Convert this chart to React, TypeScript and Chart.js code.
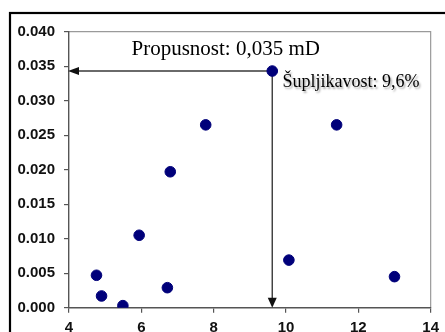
import React, { useEffect, useRef } from "react";
import { Chart, registerables } from "chart.js";

Chart.register(...registerables);

const xValues = [4.76, 4.9, 5.49, 5.94, 6.72, 6.8, 7.78, 9.62, 11.4, 10.08, 13.0];
const yValues = [0.0047, 0.0017, 0.0003, 0.0105, 0.0029, 0.0197, 0.0265, 0.0343, 0.0265, 0.0069, 0.0045];
const highlightIndex = 7;
const xTickLabels = ["4", "6", "8", "10", "12", "14"];
const yTickLabels = ["0.000", "0.005", "0.010", "0.015", "0.020", "0.025", "0.030", "0.035", "0.040"];
const permeabilityLabel = "Propusnost: 0,035 mD";
const porosityLabel = "Šupljikavost: 9,6%";

const overlayPlugin = {
  id: "overlay",
  beforeDraw(chart: any) {
    const ctx = chart.ctx;
    const { chartArea } = chart;
    ctx.save();
    ctx.strokeStyle = "#000";
    ctx.lineWidth = 2.2;
    ctx.strokeRect(10, 13, 500, 400);
    ctx.strokeStyle = "#9a9a9a";
    ctx.lineWidth = 1.2;
    ctx.beginPath();
    ctx.moveTo(chartArea.left, chartArea.top);
    ctx.lineTo(chartArea.right, chartArea.top);
    ctx.lineTo(chartArea.right, chartArea.bottom);
    ctx.stroke();
    ctx.restore();
  },
  beforeDatasetsDraw(chart: any) {
    const ctx = chart.ctx;
    const xs = chart.scales.x;
    const ys = chart.scales.y;
    const px = xs.getPixelForValue(xValues[highlightIndex]);
    const py = ys.getPixelForValue(yValues[highlightIndex]);
    const left = xs.getPixelForValue(xs.min);
    const bottom = ys.getPixelForValue(ys.min);
    ctx.save();
    ctx.strokeStyle = "#3a3a3a";
    ctx.fillStyle = "#111";
    ctx.lineWidth = 1.4;
    ctx.beginPath();
    ctx.moveTo(px, py);
    ctx.lineTo(left + 8, py);
    ctx.moveTo(px, py);
    ctx.lineTo(px, bottom - 8);
    ctx.stroke();
    ctx.beginPath();
    ctx.moveTo(left - 1, py);
    ctx.lineTo(left + 10, py - 4);
    ctx.lineTo(left + 10, py + 4);
    ctx.closePath();
    ctx.fill();
    ctx.beginPath();
    ctx.moveTo(px, bottom);
    ctx.lineTo(px - 4.5, bottom - 10);
    ctx.lineTo(px + 4.5, bottom - 10);
    ctx.closePath();
    ctx.fill();
    ctx.restore();
  },
  afterDraw(chart: any) {
    const ctx = chart.ctx;
    const { chartArea } = chart;
    ctx.save();
    ctx.textBaseline = "alphabetic";
    ctx.textAlign = "left";
    ctx.fillStyle = "#000";
    ctx.font = '21px "Liberation Serif", "Times New Roman", serif';
    ctx.fillText(permeabilityLabel, chartArea.left + 62.5, chartArea.top + 23.3);
    ctx.font = '18px "Liberation Serif", "Times New Roman", serif';
    ctx.shadowColor = "rgba(0,0,0,0.35)";
    ctx.shadowOffsetX = 1.5;
    ctx.shadowOffsetY = 1.5;
    ctx.shadowBlur = 2;
    ctx.fillText(porosityLabel, chartArea.left + 213.5, chartArea.top + 55.6);
    ctx.restore();
  },
};

export default function App() {
  const ref = useRef<HTMLCanvasElement>(null);
  useEffect(() => {
    if (!ref.current) return;
    const tickFont = { family: '"Liberation Sans", Arial, sans-serif', size: 15, weight: "bold" as const };
    const chart = new Chart(ref.current, {
      type: "scatter",
      data: {
        datasets: [
          {
            data: xValues.map((x, i) => ({ x, y: yValues[i] })),
            backgroundColor: "#00007a",
            borderColor: "#00007a",
            pointRadius: 5.3,
            pointHoverRadius: 5.3,
          },
        ],
      },
      options: {
        responsive: false,
        animation: false,
        events: [],
        layout: { padding: { left: 0, right: 8, top: 31.7, bottom: 0 } },
        plugins: { legend: { display: false }, tooltip: { enabled: false }, title: { display: false } },
        scales: {
          x: {
            type: "linear",
            min: 4,
            max: 14,
            afterBuildTicks: (s: any) => {
              s.ticks = xTickLabels.map((v) => ({ value: Number(v) }));
            },
            afterFit: (s: any) => {
              s.height = 24.3;
            },
            ticks: {
              font: tickFont,
              color: "#111",
              padding: 6,
              maxRotation: 0,
              callback: (v: any) => String(v),
            },
            grid: { drawOnChartArea: false, drawTicks: true, tickLength: 5, color: "#555", lineWidth: 1.2 },
            border: { color: "#555", width: 1.4 },
          },
          y: {
            type: "linear",
            min: 0,
            max: 0.04,
            afterBuildTicks: (s: any) => {
              s.ticks = yTickLabels.map((v) => ({ value: Number(v) }));
            },
            afterFit: (s: any) => {
              s.width = 69;
            },
            ticks: {
              font: tickFont,
              color: "#111",
              padding: 9,
              callback: (v: any) => yTickLabels.find((t) => Math.abs(Number(t) - v) < 1e-9) ?? "",
            },
            grid: { drawOnChartArea: false, drawTicks: true, tickLength: 5, color: "#555", lineWidth: 1.2 },
            border: { color: "#555", width: 1.4 },
          },
        },
      },
      plugins: [overlayPlugin],
    });
    return () => chart.destroy();
  }, []);
  return (
    <div style={{ position: "absolute", left: 0, top: 0, width: 445, height: 332, overflow: "hidden", background: "#fff" }}>
      <canvas ref={ref} width={445} height={332} style={{ display: "block", width: 445, height: 332 }} />
    </div>
  );
}
